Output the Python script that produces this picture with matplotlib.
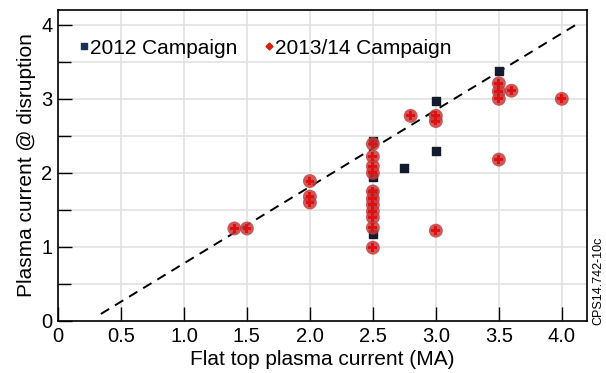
import matplotlib.pyplot as plt
from matplotlib.ticker import MultipleLocator, FixedLocator

plt.rcParams['font.family'] = ['Liberation Sans', 'DejaVu Sans']

# 2012 campaign (flat top current, current at disruption)
x_2012 = [2.5, 2.5, 2.5, 2.5, 2.75, 3.0, 3.0, 3.5]
y_2012 = [2.43, 1.95, 1.73, 1.18, 2.07, 2.97, 2.30, 3.37]

# 2013/14 campaign
x_2013 = [1.4, 1.5,
          2.0, 2.0, 2.0,
          2.5, 2.5, 2.5, 2.5, 2.5, 2.5, 2.5, 2.5, 2.5, 2.5, 2.5,
          2.8, 3.0, 3.0, 3.0,
          3.5, 3.5, 3.5, 3.5, 3.6, 4.0]
y_2013 = [1.25, 1.25,
          1.89, 1.68, 1.60,
          2.39, 2.22, 2.09, 2.00, 1.75, 1.65, 1.57, 1.48, 1.40, 1.26, 0.99,
          2.77, 2.77, 2.70, 1.22,
          3.21, 3.10, 3.00, 2.18, 3.11, 3.00]

# fitted trend line end points
fit_x = [0.34, 4.15]
fit_y = [0.095, 4.04]

x_ticks = [0, 0.5, 1.0, 1.5, 2.0, 2.5, 3.0, 3.5, 4.0]
x_labels = ["0", "0.5", "1.0", "1.5", "2.0", "2.5", "3.0", "3.5", "4.0"]

fig = plt.figure(figsize=(6.06, 3.73), dpi=100)
ax = fig.add_axes([58 / 606, 52 / 373, 529 / 606, 311 / 373])

ax.set_xlim(0, 4.2)
ax.set_ylim(0, 4.2)

ax.grid(True, which="both", color="#e2e2e2", linewidth=1.2, zorder=0)
ax.xaxis.set_major_locator(FixedLocator(x_ticks))
ax.set_xticklabels(x_labels)
ax.yaxis.set_major_locator(MultipleLocator(1))
ax.yaxis.set_minor_locator(MultipleLocator(0.5))

ax.tick_params(axis="both", which="major", direction="in", length=10,
               width=1, labelsize=14.5)
ax.tick_params(axis="x", which="major", pad=4)
ax.tick_params(axis="y", which="major", pad=4)
ax.tick_params(axis="y", which="minor", direction="in", length=9, width=1)

for s in ax.spines.values():
    s.set_linewidth(1.2)

ax.plot(fit_x, fit_y, linestyle=(0, (5, 3.5)), color="black", linewidth=1.4,
        zorder=2)

ax.scatter(x_2012, y_2012, marker="s", s=40, color="#151a2e", zorder=3,
           label="2012 Campaign")
ax.scatter(x_2013, y_2013, marker="o", s=100, color="#c43c3c", alpha=0.85,
           edgecolors="none", zorder=4)
ax.scatter(x_2013, y_2013, marker="P", s=40, color="#e01010", zorder=5,
           edgecolors="none", label="2013/14 Campaign")

h1 = plt.Line2D([], [], marker="s", color="#15305a", linestyle="none",
                markersize=4)
h2 = plt.Line2D([], [], marker="D", color="#d42010", linestyle="none",
                markersize=3.5)
ax.legend([h1, h2], ["2012 Campaign", "2013/14 Campaign"], ncol=2,
          loc="upper left", bbox_to_anchor=(0.025, 0.935), frameon=False,
          fontsize=15, handlelength=0.4, handletextpad=0.1, columnspacing=1.3,
          borderaxespad=0)

ax.set_xlabel("Flat top plasma current (MA)", fontsize=15, labelpad=3)
ax.set_ylabel("Plasma current @ disruption", fontsize=15, labelpad=4)

fig.text(598 / 606, 48 / 373, "CPS14.742-10c", rotation=90, fontsize=9,
         ha="center", va="bottom")

fig.savefig("out.png", dpi=100)
